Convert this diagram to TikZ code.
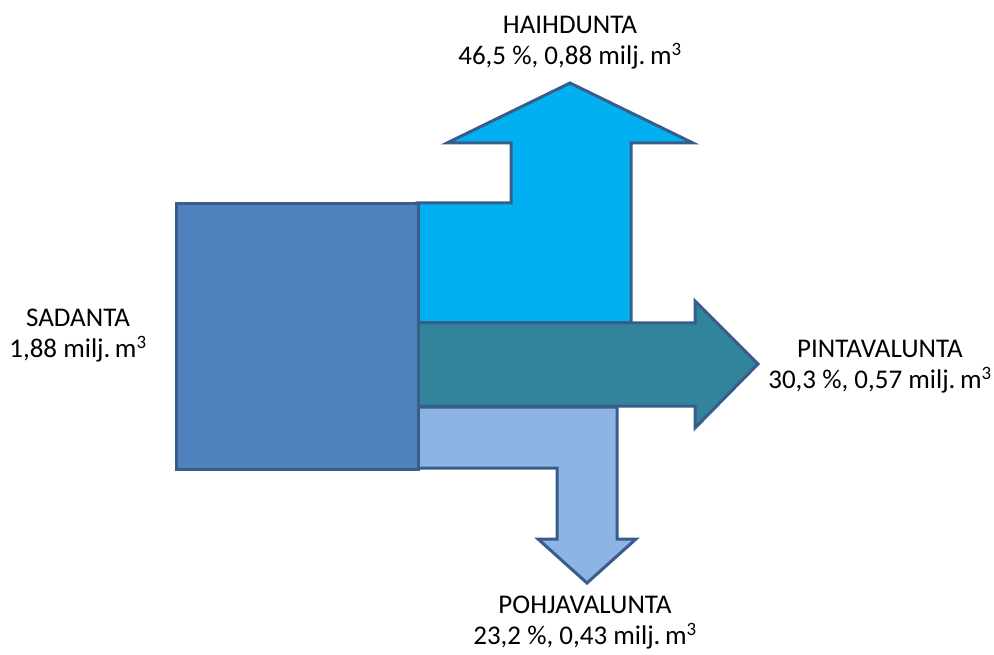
\documentclass[tikz,border=0pt]{standalone}
\usepackage{fontspec}
\setmainfont{Carlito}
\definecolor{edgeblue}{HTML}{385D8A}
\definecolor{sadfill}{HTML}{4F81BD}
\definecolor{haifill}{HTML}{00B0F0}
\definecolor{pintafill}{HTML}{31849B}
\definecolor{pohjafill}{HTML}{8EB4E3}
\tikzset{
  flow/.style={draw=edgeblue, line width=3pt, line join=miter},
  label/.style={align=center, font=\fontsize{27}{31}\selectfont, inner sep=0pt}
}
\begin{document}
\begin{tikzpicture}[x=1pt,y=-1pt]
            \useasboundingbox (0,0) rectangle (994,655);
            % flows
            \draw[flow, fill=haifill] (417,203) -- (511,203) -- (511,143) -- (447,143) -- (570,83)
                -- (693,143) -- (631,143) -- (631,323) -- (417,323) -- cycle;
            \draw[flow, fill=pintafill] (417,323) -- (695,323) -- (695,301) -- (758,364)
                -- (695,428) -- (695,406) -- (417,406) -- cycle;
            \draw[flow, fill=pohjafill] (417,407) -- (617,407) -- (617,539) -- (636,539) -- (587,583)
                -- (538,539) -- (557,539) -- (557,468) -- (417,468) -- cycle;
            
            % source
            \node[flow, fill=sadfill, minimum width=242pt, minimum height=266pt, inner sep=0pt, anchor=north west] (sadanta) at (175,202) {};
            
            % labels
            \node[label] (sadlabel) at (78,336) {SADANTA\\1,88 milj.\,m\textsuperscript{3}};
            \node[label] (hailabel) at (570,43) {HAIHDUNTA\\46,5 \%, 0,88 milj.\,m\textsuperscript{3}};
            \node[label] (pintalabel) at (880,367) {PINTAVALUNTA\\30,3 \%, 0,57 milj.\,m\textsuperscript{3}};
            \node[label] (pohjalabel) at (585,623) {POHJAVALUNTA\\23,2 \%, 0,43 milj.\,m\textsuperscript{3}};
\end{tikzpicture}
\end{document}
